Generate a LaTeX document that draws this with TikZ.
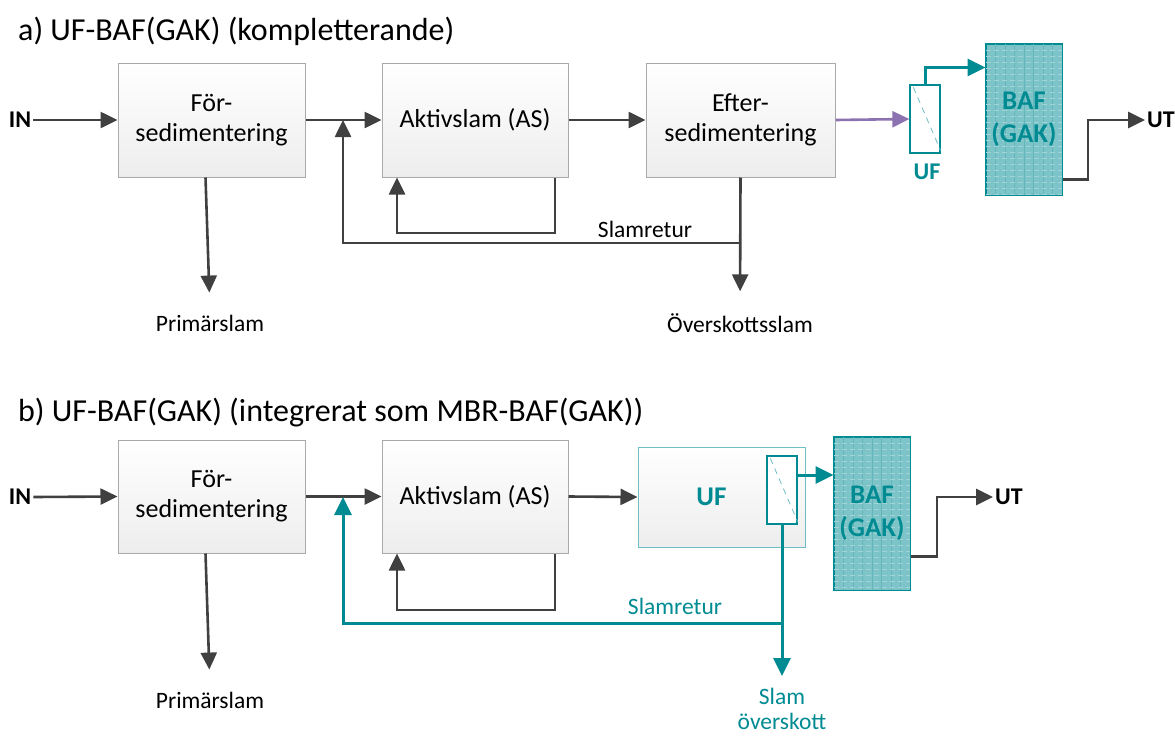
\documentclass[tikz,border=0pt]{standalone}
\usepackage{fontspec}
\setmainfont{Carlito}
\usetikzlibrary{arrows.meta}

\definecolor{darkLine}{RGB}{64,64,64}
\definecolor{boxBorder}{RGB}{170,170,170}
\definecolor{tealMain}{RGB}{0,139,147}
\definecolor{tealLight}{RGB}{110,190,195}
\definecolor{bafFill}{RGB}{124,196,200}
\definecolor{bafLine}{RGB}{100,182,187}
\definecolor{purpleFlow}{RGB}{140,114,176}

\tikzset{
  procbox/.style={draw=boxBorder,line width=1pt,top color=white,bottom color=gray!14,
    minimum width=187pt,minimum height=114pt,inner sep=0pt,align=center,
    font=\fontsize{26}{30}\selectfont},
  membox/.style={draw=tealMain,line width=1.3pt,fill=white,minimum width=30pt,
    minimum height=68pt,inner sep=0pt},
  bafbox/.style={draw=tealMain,line width=1pt,minimum width=76pt,inner sep=0pt,
    align=center,text=tealMain,font=\fontsize{27}{33}\selectfont\bfseries},
  lbl/.style={font=\fontsize{23.5}{27}\selectfont,inner sep=2pt},
  iolbl/.style={font=\fontsize{24}{28}\selectfont\bfseries,inner sep=2pt},
  flow/.style={draw=darkLine,line width=2.6pt,-{Triangle[length=17pt,width=16pt]}},
  tflow/.style={flow,draw=tealMain,line width=3pt,-{Triangle[length=18pt,width=17pt]}},
  title/.style={font=\fontsize{32}{37}\selectfont,anchor=west,inner sep=0pt}
}

\begin{document}
\begin{tikzpicture}[x=1pt,y=-1pt]
  \useasboundingbox (0,0) rectangle (1175,736);

  % ---- a) kompletterande
  \node[title] (titleA) at (18,31) {a) UF-BAF(GAK) (kompletterande)};
  \node[iolbl] (inA) at (20,120) {IN};
  \node[procbox] (forsA) at (211.5,120) {För-\\sedimentering};
  \node[procbox,minimum width=186pt] (aktivA) at (475,120) {Aktivslam (AS)};
  \node[procbox,minimum width=189pt] (efterA) at (740.5,120) {Efter-\\sedimentering};
  \node[membox] (mfA) at (925,119) {};
  \draw[tealLight,line width=0.8pt,dash pattern=on 6pt off 5pt] ([shift={(4,3)}]mfA.north west) -- ([shift={(0,-3)}]mfA.south east);
  \node[iolbl,text=tealMain] (ufA) at (927,172) {UF};
  \node[bafbox,minimum height=151pt,fill=bafFill] (bafA) at (1024,119.5) {};
  \begin{scope}
    \clip (bafA.north west) rectangle (bafA.south east);
    \foreach \i in {1,...,7} \draw[bafLine,line width=0.8pt] (986+\i*9.5,44) -- (986+\i*9.5,195);
    \foreach \j in {1,...,25} \draw[bafLine!60,line width=1pt,dash pattern=on 5pt off 3pt] (986,44+\j*6) -- (1062,44+\j*6);
  \end{scope}
  \draw[tealMain,line width=1pt] (bafA.north west) rectangle (bafA.south east);
  \node[bafbox,draw=none] (bafTxtA) at (bafA.center) {BAF\\(GAK)};
  \node[iolbl] (utA) at (1161,120) {UT};
  \node[lbl] (primA) at (210,323) {Primärslam};
  \node[lbl] (oskA) at (740,323) {Överskottsslam};
  \node[lbl] (retTxtA) at (645,229) {Slamretur};
  \coordinate (jA) at (343,120);
  \coordinate (retA) at (740,243);
  \coordinate (loopA) at (397,233);
  \coordinate (kneeA) at (1088,120);

  \draw[flow] (inA.east) -- (forsA.west);
  \draw[flow] (forsA.east) -- (aktivA.west);
  \draw[flow] (aktivA.east) -- (efterA.west);
  \draw[flow,draw=purpleFlow] (efterA.east) -- (mfA.west);
  \draw[tflow] (mfA.north) |- ([yshift=52]bafA.west);
  \draw[flow] ([yshift=-60]bafA.east) -| (kneeA) -- (utA.west);
  \draw[flow] ([xshift=80]aktivA.south) |- (loopA) -- ([xshift=-78]aktivA.south);
  \draw[flow] (retA) -| (jA);
  \draw[flow,shorten >=20pt] (efterA.south) -- (oskA.north);
  \draw[flow,shorten >=20pt] ([xshift=-6]forsA.south) -- (primA.north);

  % ---- b) integrerat som MBR
  \node[title] (titleB) at (18,413) {b) UF-BAF(GAK) (integrerat som MBR-BAF(GAK))};
  \node[iolbl] (inB) at (20,497) {IN};
  \node[procbox,minimum height=113pt] (forsB) at (211.5,496.5) {För-\\sedimentering};
  \node[procbox,minimum width=186pt,minimum height=113pt] (aktivB) at (475,496.5) {Aktivslam (AS)};
  \node[procbox,draw=tealLight,minimum width=167pt,minimum height=100pt,text=tealMain,
    font=\fontsize{27}{31}\selectfont\bfseries] (ufB) at (721.5,497) {UF\hspace*{20pt}};
  \node[membox] (mfB) at (782,490) {};
  \draw[tealLight,line width=0.8pt,dash pattern=on 6pt off 5pt] ([shift={(4,3)}]mfB.north west) -- ([shift={(0,-3)}]mfB.south east);
  \node[bafbox,minimum height=153pt,fill=bafFill] (bafB) at (872,513.5) {};
  \begin{scope}
    \clip (bafB.north west) rectangle (bafB.south east);
    \foreach \i in {1,...,7} \draw[bafLine,line width=0.8pt] (834+\i*9.5,437) -- (834+\i*9.5,590);
    \foreach \j in {1,...,25} \draw[bafLine!60,line width=1pt,dash pattern=on 5pt off 3pt] (834,437+\j*6) -- (910,437+\j*6);
  \end{scope}
  \draw[tealMain,line width=1pt] (bafB.north west) rectangle (bafB.south east);
  \node[bafbox,draw=none] (bafTxtB) at (bafB.center) {BAF\\(GAK)};
  \node[iolbl] (utB) at (1009,497) {UT};
  \node[lbl] (primB) at (210,700) {Primärslam};
  \node[lbl,text=tealMain,align=center,font=\fontsize{23.5}{25}\selectfont] (slamB) at (782,709) {Slam\\överskott};
  \node[lbl,text=tealMain] (retTxtB) at (675,606) {Slamretur};
  \coordinate (jB) at (343,497);
  \coordinate (retB) at (782,623);
  \coordinate (loopB) at (397,610);
  \coordinate (kneeB) at (937,497);

  \draw[flow] (inB.east) -- (forsB.west);
  \draw[flow] (forsB.east) -- (aktivB.west);
  \draw[flow] (aktivB.east) -- (ufB.west);
  \draw[tflow] ([yshift=15]mfB.east) -- ([yshift=15]mfB.east -| bafB.west);
  \draw[flow] ([yshift=-43]bafB.east) -| (kneeB) -- (utB.west);
  \draw[flow] ([xshift=80]aktivB.south) |- (loopB) -- ([xshift=-78]aktivB.south);
  \draw[tflow] (retB) -| (jB);
  \draw[tflow,shorten >=10pt] (mfB.south) -- (slamB.north);
  \draw[flow,shorten >=20pt] ([xshift=-6]forsB.south) -- (primB.north);
\end{tikzpicture}
\end{document}
